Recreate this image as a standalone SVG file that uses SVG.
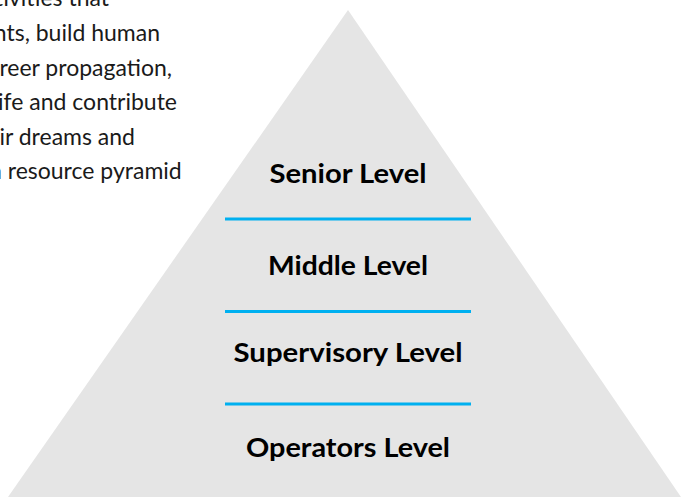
<svg xmlns="http://www.w3.org/2000/svg" width="684" height="497" viewBox="0 0 684 497">
<style>
.body{font-family:Lato,"Open Sans","Liberation Sans",sans-serif;font-size:23px;fill:#1a1a1a;text-anchor:end}
.lvl{font-family:Lato,"Open Sans","Liberation Sans",sans-serif;font-size:27px;font-weight:bold;fill:#000;text-anchor:middle}
.sep{stroke:#00b0f0;stroke-width:3}
</style>
<rect width="684" height="497" fill="#fff"/>
<g id="paragraph">
<text class="body" x="109" y="6.3">tivities that</text>
<text class="body" x="160" y="40.9">nts, build human</text>
<text class="body" x="172" y="75.5">reer propagation,</text>
<text class="body" x="177" y="110.1">ife and contribute</text>
<text class="body" x="135" y="144.7">ir dreams and</text>
<text class="body" x="181.7" y="179.3">n resource pyramid</text>
</g>
<g id="pyramid">
<polygon points="348,10 681,497 8,497" fill="#e5e5e5"/>
</g>
<g id="connectors">
<line class="sep" x1="225" y1="219" x2="471" y2="219"/>
<line class="sep" x1="225" y1="311.5" x2="471" y2="311.5"/>
<line class="sep" x1="225" y1="404" x2="471" y2="404"/>
</g>
<g id="senior"><text class="lvl" x="348" y="183.3" textLength="157" lengthAdjust="spacingAndGlyphs">Senior Level</text></g>
<g id="middle"><text class="lvl" x="348" y="275" textLength="160" lengthAdjust="spacingAndGlyphs">Middle Level</text></g>
<g id="supervisory"><text class="lvl" x="348" y="361.7" textLength="229" lengthAdjust="spacingAndGlyphs">Supervisory Level</text></g>
<g id="operators"><text class="lvl" x="348" y="456.5" textLength="204" lengthAdjust="spacingAndGlyphs">Operators Level</text></g>
</svg>
